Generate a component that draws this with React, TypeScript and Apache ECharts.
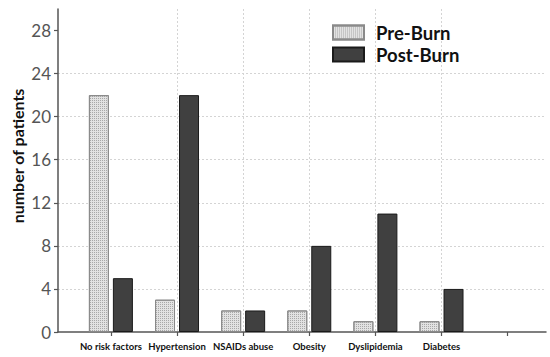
import React, { useEffect, useRef } from "react";
import * as echarts from "echarts";

const categories = ["No risk factors", "Hypertension", "NSAIDs abuse", "Obesity", "Dyslipidemia", "Diabetes"];
const preBurn = [22, 3, 2, 2, 1, 1];
const postBurn = [5, 22, 2, 8, 11, 4];
const yTicks = [0, 4, 8, 12, 16, 20, 24, 28];
const xTicks = [0, 1, 2, 3, 4, 5, 6];
const seriesNames = ["Pre-Burn", "Post-Burn"];
const yAxisTitle = "number of patients";

const FONT = "Lato, 'DejaVu Sans', sans-serif";

export default function App() {
  const ref = useRef<HTMLDivElement>(null);
  useEffect(() => {
    if (!ref.current) return;
    const chart = echarts.init(ref.current, null, { renderer: "svg" });
    chart.setOption({
      animation: false,
      backgroundColor: "#ffffff",
      textStyle: { fontFamily: FONT },
      grid: { left: 58, right: 4, top: 9, bottom: 25, containLabel: false },
      legend: {
        orient: "vertical",
        left: 332,
        top: 23,
        padding: 0,
        itemWidth: 31,
        itemHeight: 14,
        itemGap: 3,
        icon: "rect",
        data: seriesNames,
        textStyle: { fontSize: 18.5, fontWeight: "bold", color: "#111", fontFamily: FONT, padding: [0, 0, 0, 7] },
      },
      xAxis: {
        type: "value",
        min: -0.8,
        max: 6.58,
        interval: 1,
        axisLine: { show: true, onZero: false, lineStyle: { color: "#555", width: 1.5 } },
        axisTick: { show: true, length: 4, customValues: xTicks, lineStyle: { color: "#555", width: 1.2 } },
        axisLabel: {
          customValues: xTicks.slice(0, categories.length),
          formatter: (v: number) => categories[Math.round(v)] ?? "",
          fontSize: 9.5,
          fontWeight: "bold",
          color: "#111",
          margin: 9,
          fontFamily: FONT,
        },
        splitLine: { show: true, showMinLine: false, showMaxLine: false, lineStyle: { color: "#d4d4d4", type: [2, 2], width: 1 } },
      },
      yAxis: {
        type: "value",
        min: 0,
        max: 30,
        interval: 4,
        axisLine: { show: true, onZero: false, lineStyle: { color: "#555", width: 1.5 } },
        axisTick: { show: true, length: 4, customValues: yTicks, lineStyle: { color: "#555", width: 1.2 } },
        axisLabel: { customValues: yTicks, fontSize: 17, color: "#555", margin: 7, fontFamily: FONT },
        splitLine: { show: true, showMinLine: false, showMaxLine: false, lineStyle: { color: "#d4d4d4", type: [2, 2], width: 1 } },
      },
      graphic: [
        {
          type: "text",
          x: 17,
          y: 156,
          rotation: Math.PI / 2,
          style: {
            text: yAxisTitle,
            font: `bold 16px ${FONT}`,
            fill: "#111",
            textAlign: "center",
            textVerticalAlign: "middle",
          },
        },
      ],
      series: [
        {
          name: seriesNames[0],
          type: "bar",
          barWidth: 20,
          barGap: "20%",
          data: categories.map((_, i) => [i, preBurn[i]]),
          itemStyle: {
            color: "#e2e2e2",
            borderColor: "#8a8a8a",
            borderWidth: 1,
            decal: {
              symbol: "rect",
              symbolSize: 1,
              color: "#a8a8a8",
              dashArrayX: [1, 1],
              dashArrayY: [1, 1],
              rotation: 0,
            },
          },
        },
        {
          name: seriesNames[1],
          type: "bar",
          barWidth: 20,
          data: categories.map((_, i) => [i, postBurn[i]]),
          itemStyle: { color: "#404040", borderColor: "#1a1a1a", borderWidth: 1 },
        },
      ],
    });
    return () => chart.dispose();
  }, []);
  return <div ref={ref} style={{ position: "absolute", left: 0, top: 0, width: 550, height: 357 }} />;
}
